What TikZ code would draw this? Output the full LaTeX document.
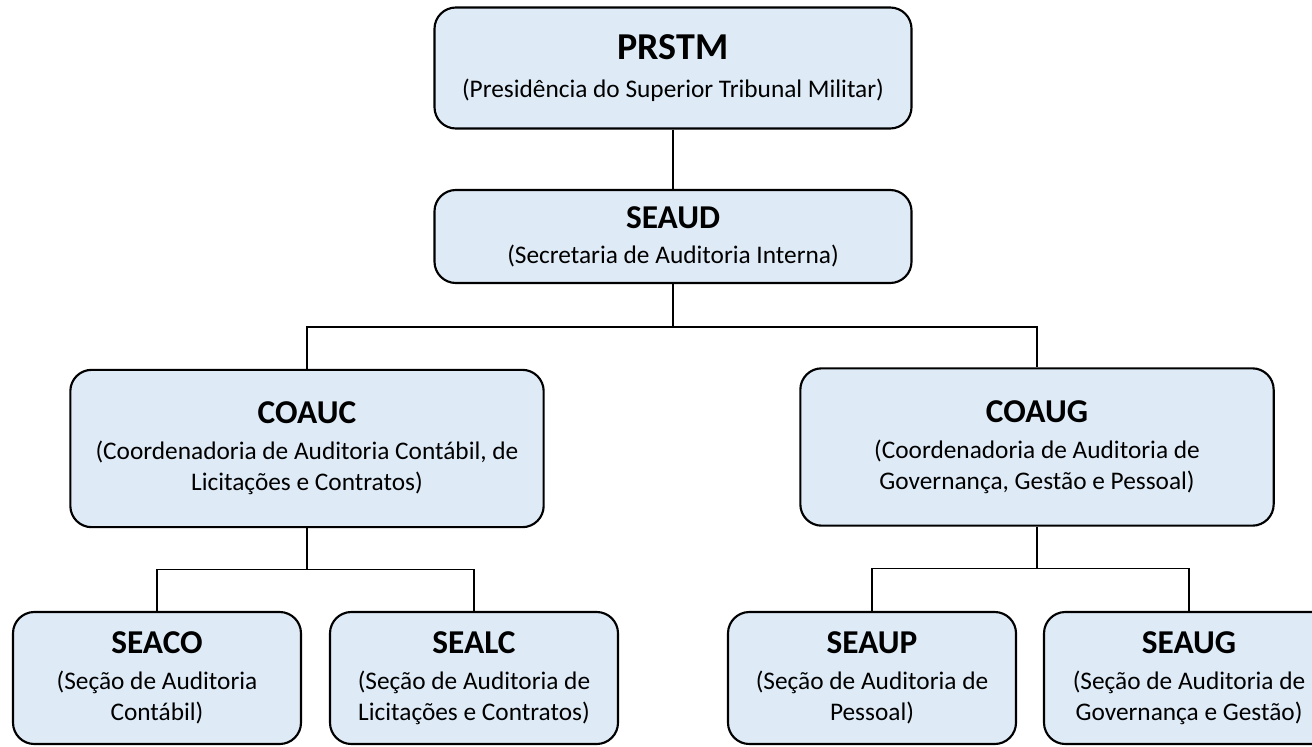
\documentclass[tikz,border=0pt]{standalone}
\usepackage{fontspec}
\setmainfont{Carlito}
\usetikzlibrary{positioning}
\definecolor{orgfill}{HTML}{DEEBF7}
\tikzset{
  unit/.style={draw=black, fill=orgfill, rounded corners=16pt, line width=1.6pt,
               align=center, inner sep=2pt, font=\fontsize{19}{23}\selectfont},
  headunit/.style={unit, minimum width=357.75pt},
  coordunit/.style={unit, minimum width=355pt, minimum height=118pt},
  secunit/.style={unit, minimum width=216pt, minimum height=99pt},
  link/.style={line width=1.1pt, black},
}
\newcommand{\unitname}[1]{{\fontsize{25}{28}\selectfont\bfseries #1}}

\begin{document}
\begin{tikzpicture}[x=0.75pt, y=-0.75pt]
  \clip (0,0) rectangle (1312,746);

  % top of the chart
  \node[headunit, minimum height=90.75pt] (prstm) at (673,68)
    {{\fontsize{28.5}{31}\selectfont\bfseries PRSTM}\\[5pt]
     (Presidência do Superior Tribunal Militar)};
  \node[headunit, minimum height=69.75pt] (seaud) at (673,236.5)
    {\unitname{SEAUD}\\[3pt] (Secretaria de Auditoria Interna)};

  % coordinations
  \node[coordunit] (coauc) at (307,448.5)
    {\unitname{COAUC}\\[4pt] (Coordenadoria de Auditoria Contábil, de\\
     Licitações e Contratos)};
  \node[coordunit] (coaug) at (1037,447)
    {\unitname{COAUG}\\[4pt] (Coordenadoria de Auditoria de\\
     Governança, Gestão e Pessoal)};

  % sections
  \node[secunit] (seaco) at (157,678)
    {\unitname{SEACO}\\[4pt] (Seção de Auditoria\\ Contábil)};
  \node[secunit] (sealc) at (474,678)
    {\unitname{SEALC}\\[4pt] (Seção de Auditoria de\\ Licitações e Contratos)};
  \node[secunit] (seaup) at (872,678)
    {\unitname{SEAUP}\\[4pt] (Seção de Auditoria de\\ Pessoal)};
  \node[secunit, minimum width=217.5pt] (seaug) at (1189,678)
    {\unitname{SEAUG}\\[4pt] (Seção de Auditoria de\\ Governança e Gestão)};

  % connectors
  \draw[link] (prstm) -- (seaud);
  \draw[link] (seaud.south) -- ++(0,43) -| (coauc.north);
  \draw[link] (seaud.south) -- ++(0,43) -| (coaug.north);
  \draw[link] (coauc.south) -- ++(0,41) -| (seaco.north);
  \draw[link] (coauc.south) -- ++(0,41) -| (sealc.north);
  \draw[link] (coaug.south) -- ++(0,42) -| (seaup.north);
  \draw[link] (coaug.south) -- ++(0,42) -| (seaug.north);
\end{tikzpicture}
\end{document}
